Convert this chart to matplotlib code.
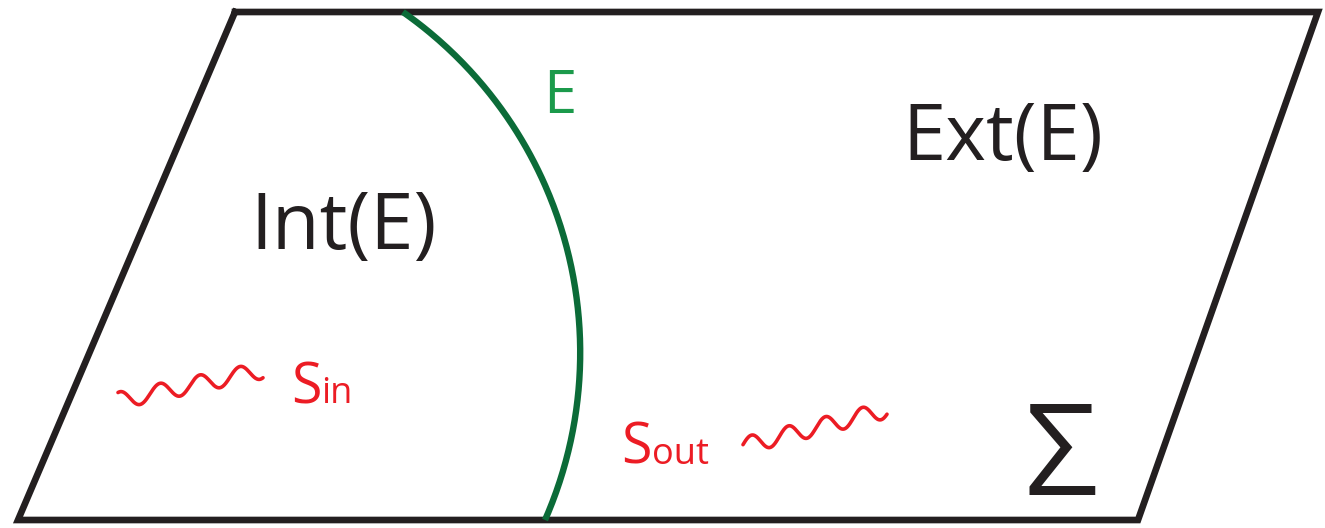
import numpy as np
import matplotlib.pyplot as plt

# sheet outline (pixel coords, y down)
sheet_x = [235, 1318, 1138, 18, 235]
sheet_y = [12, 12, 520, 520, 12]

# boundary E: circular arc
arc_center = (164.4, 352.6)
arc_radius = 415.8
arc_y_range = (12, 520)

# wavy sources: x0, x1, trough x, centre y at trough, slope, period, amplitude
waves = [(118, 263, 140, 396, -0.21, 40, 8.5),
         (743, 887, 770, 439, -0.25, 37, 8.5)]

black = "#231f20"
green_line = "#0b6b38"
green_text = "#1b9a4b"
red = "#ec1c24"
font = "Open Sans"

fig = plt.figure(figsize=(13.25, 5.28), dpi=100)
ax = fig.add_axes([0, 0, 1, 1])
ax.set_xlim(0, 1325)
ax.set_ylim(528, 0)
ax.axis("off")

ax.plot(sheet_x, sheet_y, color=black, lw=4.8, solid_joinstyle="miter")

yy = np.linspace(arc_y_range[0], arc_y_range[1], 200)
xx = arc_center[0] + np.sqrt(arc_radius**2 - (yy - arc_center[1])**2)
ax.plot(xx, yy, color=green_line, lw=4.6, solid_capstyle="butt")

for x0, x1, xt, yc, slope, period, amp in waves:
    x = np.linspace(x0, x1, 300)
    y = yc + slope * (x - xt) + amp * np.cos(2 * np.pi * (x - xt) / period)
    ax.plot(x, y, color=red, lw=2.6, solid_capstyle="round")

ax.text(250, 249, "Int(E)", fontsize=56, color=black, family=font, ha="left", va="baseline")
ax.text(902, 160, "Ext(E)", fontsize=56, color=black, family=font, ha="left", va="baseline")
ax.text(560, 113, "E", fontsize=43, color=green_text, family=font, ha="center", va="baseline")
ax.text(1061, 495, "Σ", fontsize=93, color=black, family=font, ha="center", va="baseline")

ax.text(291, 403, "S", fontsize=40, color=red, family=font, ha="left", va="baseline")
ax.text(321, 403, "in", fontsize=26, color=red, family=font, ha="left", va="baseline")
ax.text(621, 464, "S", fontsize=40, color=red, family=font, ha="left", va="baseline")
ax.text(652, 464, "out", fontsize=26, color=red, family=font, ha="left", va="baseline")

fig.savefig("out.png", dpi=100)
